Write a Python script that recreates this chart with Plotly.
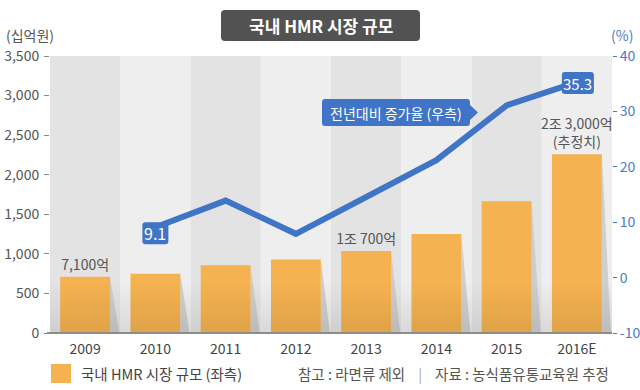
import plotly.graph_objects as go

# ---------------- data ----------------
years = ["2009", "2010", "2011", "2012", "2013", "2014", "2015", "2016E"]
market_size = [710, 750, 855, 930, 1035, 1250, 1665, 2258]          # 십억원 (left axis)
growth_rate = [None, 9.1, 13.9, 7.9, 14.6, 21.2, 31.1, 35.3]        # % (right axis)
bar_labels = ["7,100억", "", "", "", "1조 700억", "", "", "2조 3,000억<br>(추정치)"]
left_ticks = [0, 500, 1000, 1500, 2000, 2500, 3000, 3500]
right_ticks = [-10, 0, 10, 20, 30, 40]
right_tick_text = ["-10", "0", "10", "20", "30", "40"]

FONT = "Noto Sans CJK KR"
W, H = 640, 390
L, R, T, B = 50, 28, 56, 57
PW, PH = W - L - R, H - T - B
ORANGE = "#F5B250"
BLUE = "#3F74C6"
GREY_TXT = "#555555"


def px(x):
    return (x - L) / PW


def py(y):
    return (H - B - y) / PH


def rrect(x0, y0, x1, y1, r):
    pts = [
        ("M", [(x0 + r, y0)]), ("L", [(x1 - r, y0)]), ("Q", [(x1, y0), (x1, y0 + r)]),
        ("L", [(x1, y1 - r)]), ("Q", [(x1, y1), (x1 - r, y1)]), ("L", [(x0 + r, y1)]),
        ("Q", [(x0, y1), (x0, y1 - r)]), ("L", [(x0, y0 + r)]), ("Q", [(x0, y0), (x0 + r, y0)]),
    ]
    s = ""
    for cmd, ps in pts:
        s += cmd + " " + " ".join(f"{px(a):.5f},{py(b):.5f}" for a, b in ps) + " "
    return s + "Z"


fig = go.Figure()

fig.add_trace(go.Bar(
    x=years, y=market_size, width=0.71,
    marker=dict(color=ORANGE, line=dict(width=0)),
    text=bar_labels, textposition="outside", cliponaxis=False, constraintext="none",
    textfont=dict(family=FONT, size=14, color=GREY_TXT),
    showlegend=False, hoverinfo="skip",
))

fig.add_trace(go.Scatter(
    x=years, y=growth_rate, yaxis="y2", mode="lines",
    line=dict(color=BLUE, width=6), connectgaps=False,
    showlegend=False, hoverinfo="skip",
))

shapes = []
# alternating column bands
for i in range(len(years)):
    shapes.append(dict(type="rect", xref="x", yref="paper", x0=i - 0.5, x1=i + 0.5, y0=0, y1=1,
                       fillcolor="#E3E3E3" if i % 2 == 0 else "#EEEEEE", line=dict(width=0), layer="below"))
# bar shadows
for i, v in enumerate(market_size):
    x0 = i + 0.355
    shapes.append(dict(type="path", xref="x", yref="y",
                       path=f"M {x0},{v} L {x0 + 0.13},0 L {x0},0 Z",
                       fillcolor="#C9C9C9", line=dict(width=0), layer="below", opacity=0.85))
# bottom gradient
n = 12
for k in range(n):
    y_top = 285 + k * 4
    shapes.append(dict(type="rect", xref="paper", yref="paper", x0=0, x1=1,
                       y0=py(y_top + 4), y1=py(y_top),
                       fillcolor="black", opacity=0.007 * (k + 1), line=dict(width=0), layer="above"))
# baseline
shapes.append(dict(type="line", xref="paper", yref="paper", x0=px(47), x1=1, y0=0, y1=0,
                   line=dict(color="#8C8C8C", width=2), layer="above"))
# title box
shapes.append(dict(type="path", xref="paper", yref="paper", path=rrect(221, 10, 420, 41, 4),
                   fillcolor="#525252", line=dict(width=0)))
# callout box + arrow
shapes.append(dict(type="path", xref="paper", yref="paper", path=rrect(322, 99, 470, 126, 3),
                   fillcolor=BLUE, line=dict(width=0)))
shapes.append(dict(type="path", xref="paper", yref="paper",
                   path=f"M {px(469)},{py(104)} L {px(478)},{py(112.5)} L {px(469)},{py(121)} Z",
                   fillcolor=BLUE, line=dict(width=0)))
# legend square
shapes.append(dict(type="rect", xref="paper", yref="paper", x0=px(51), x1=px(71), y0=py(383), y1=py(364),
                   fillcolor=ORANGE, line=dict(width=0)))

annotations = []
# value boxes for first and last growth points
for idx, fs, w, dy in [(1, 16, 26, 6), (7, 15, 32, 1)]:
    v = growth_rate[idx]
    cx = L + (idx + 0.5) * PW / len(years) + (1 if idx == 7 else 0)
    cy = T + (40 - v) / 50 * PH + dy
    shapes.append(dict(type="path", xref="paper", yref="paper",
                       path=rrect(cx - w / 2, cy - 11, cx + w / 2, cy + 11, 3),
                       fillcolor=BLUE, line=dict(width=0)))
    annotations.append(dict(xref="paper", yref="paper", x=px(cx), y=py(cy), text=f"{v}",
                            showarrow=False, xanchor="center", yanchor="middle",
                            font=dict(family=FONT, size=fs, color="white")))

annotations += [
    dict(xref="paper", yref="paper", x=px(320.5), y=py(25.5), text="<b>국내 HMR 시장 규모</b>",
         showarrow=False, xanchor="center", yanchor="middle",
         font=dict(family=FONT, size=17, color="white")),
    dict(xref="paper", yref="paper", x=px(396), y=py(112.5), text="전년대비 증가율 (우측)",
         showarrow=False, xanchor="center", yanchor="middle",
         font=dict(family=FONT, size=14, color="white")),
    dict(xref="paper", yref="paper", x=px(4), y=py(35), text="(십억원)",
         showarrow=False, xanchor="left", yanchor="middle",
         font=dict(family=FONT, size=14, color=GREY_TXT)),
    dict(xref="paper", yref="paper", x=px(635), y=py(35), text="(%)",
         showarrow=False, xanchor="right", yanchor="middle",
         font=dict(family=FONT, size=14, color="#4A7BCB")),
    dict(xref="paper", yref="paper", x=px(79), y=py(373.5), text="국내 HMR 시장 규모 (좌측)",
         showarrow=False, xanchor="left", yanchor="middle",
         font=dict(family=FONT, size=14.5, color="#444444")),
    dict(xref="paper", yref="paper", x=px(611), y=py(373.5),
         text="참고 : 라면류 제외&nbsp;&nbsp;&nbsp;&nbsp;<span style='color:#AAAAAA'>|</span>"
              "&nbsp;&nbsp;&nbsp;&nbsp;자료 : 농식품유통교육원 추정",
         showarrow=False, xanchor="right", yanchor="middle",
         font=dict(family=FONT, size=14.5, color=GREY_TXT)),
]

fig.update_layout(
    width=W, height=H,
    margin=dict(l=L, r=R, t=T, b=B, autoexpand=False),
    paper_bgcolor="white", plot_bgcolor="white",
    font=dict(family=FONT),
    bargap=0.29,
    xaxis=dict(type="category", showgrid=False, zeroline=False, showline=False, ticks="",
               tickfont=dict(family=FONT, size=14, color="#444444"), ticklabelstandoff=6,
               range=[-0.5, len(years) - 0.5], automargin=False),
    yaxis=dict(range=[0, 3500], tickvals=left_ticks, tickformat=",", showgrid=False, zeroline=False,
               showline=False, ticks="outside", ticklen=5, tickcolor="#888888", tickwidth=1,
               tickfont=dict(family=FONT, size=14, color=GREY_TXT), ticklabelstandoff=2,
               automargin=False),
    yaxis2=dict(range=[-10, 40], tickvals=right_ticks, ticktext=right_tick_text, overlaying="y",
                side="right", showgrid=False,
                zeroline=False, showline=False, ticks="outside", ticklen=4, tickcolor="#4A7BCB",
                tickfont=dict(family=FONT, size=14, color="#4A7BCB"), ticklabelstandoff=0,
                automargin=False),
    shapes=shapes,
    annotations=annotations,
)

fig.write_html("out.html", config={"displayModeBar": False},
               post_script="document.body.style.margin='0';document.body.style.overflow='hidden';")
